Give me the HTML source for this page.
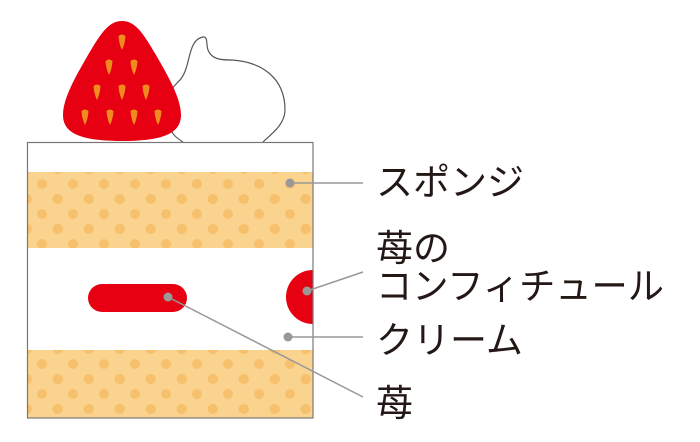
<!DOCTYPE html>
<html><head><meta charset="utf-8"><style>
html,body{margin:0;padding:0;background:#fff;width:700px;height:442px;overflow:hidden}
text{font-family:"Liberation Sans","Noto Sans CJK JP",sans-serif;fill:#231815}
</style></head><body>
<svg width="700" height="442" viewBox="0 0 700 442" xmlns="http://www.w3.org/2000/svg">
<defs>
<pattern id="dots" x="27" y="169" width="31" height="30" patternUnits="userSpaceOnUse">
<rect width="31" height="30" fill="#fad48f"/>
<circle cx="15" cy="15" r="5" fill="#f6c06d"/>
<circle cx="30.5" cy="0" r="5" fill="#f6c06d"/>
<circle cx="0" cy="0" r="5" fill="#f6c06d"/>
<circle cx="30.5" cy="30" r="5" fill="#f6c06d"/>
<circle cx="0" cy="30" r="5" fill="#f6c06d"/>
</pattern>
<clipPath id="box"><rect x="27" y="142" width="286" height="276"/></clipPath>
</defs>
<!-- cream swirl -->
<path d="M183,142 C170,134 168,128 176,120 C160,100 172,88 178,82 C192,70 186,40 203,37 C208,36 206,44 208,50 C212,60 222,60 232,60 C262,62 285,78 285,110 C285,125 270,135 263,142" fill="#fff" stroke="#555" stroke-width="1.2"/>
<!-- strawberry -->
<path d="M122,21 C108,21 100,35 88,55 C76,76 63,98 63,115 C63,133 80,141 122,141 C164,141 181,133 181,115 C181,98 168,76 156,55 C144,35 136,21 122,21 Z" fill="#e60012"/>
<g fill="#f08c1e">
<path id="s" d="M-3.5,-6 Q0,-9 3.5,-6 Q3,2 0,8 Q-3,2 -3.5,-6Z" transform="translate(122,42)"/>
<use href="#s" transform="translate(-13,25)"/><use href="#s" transform="translate(12,25)"/>
<use href="#s" transform="translate(-25,50)"/><use href="#s" transform="translate(0,50)"/><use href="#s" transform="translate(24,50)"/>
<use href="#s" transform="translate(-37,75)"/><use href="#s" transform="translate(-12,75)"/><use href="#s" transform="translate(12,75)"/><use href="#s" transform="translate(36,75)"/>
</g>
<!-- cake -->
<rect x="27" y="142" width="286" height="276" fill="#fff"/>
<rect x="27" y="172" width="286" height="76" fill="url(#dots)"/>
<rect x="27" y="350" width="286" height="68" fill="url(#dots)"/>
<g clip-path="url(#box)"><circle cx="313" cy="297" r="27" fill="#e60012"/></g>
<rect x="88" y="284" width="99" height="28" rx="14" fill="#e60012"/>
<rect x="27.5" y="142.5" width="285.5" height="275.5" fill="none" stroke="#777" stroke-width="1.2"/>
<!-- leader lines -->
<g stroke="#999" stroke-width="1.5" fill="none">
<line x1="290" y1="183" x2="363" y2="183"/>
<line x1="307" y1="291" x2="363" y2="272"/>
<line x1="288" y1="337" x2="363" y2="337"/>
<line x1="168" y1="297" x2="363" y2="397"/>
</g>
<g fill="#999">
<circle cx="290" cy="183" r="4.5"/><circle cx="307" cy="291" r="4.5"/>
<circle cx="288" cy="337" r="4.5"/><circle cx="168" cy="297" r="4.5"/>
</g>
<g font-size="37">
<text x="376" y="195">スポンジ</text>
<text x="376" y="261">苺の</text>
<text x="376" y="299" textLength="288" lengthAdjust="spacingAndGlyphs">コンフィチュール</text>
<text x="376" y="353">クリーム</text>
<text x="376" y="416">苺</text>
</g>
</svg>
</body></html>
